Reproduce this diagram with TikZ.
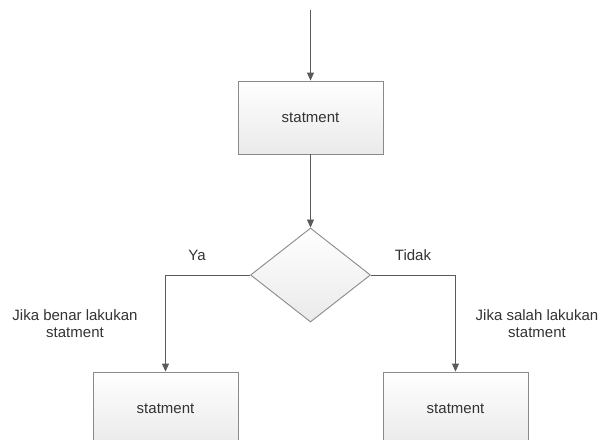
\documentclass[tikz,border=0pt]{standalone}
\usepackage{fontspec}
\setmainfont{Liberation Sans}
\usetikzlibrary{arrows.meta,shapes.geometric}
\definecolor{linec}{HTML}{5A5A5A}
\definecolor{borderc}{HTML}{8A8A8A}
\definecolor{textc}{HTML}{333333}
\definecolor{fillb}{HTML}{EAEAEA}
\begin{document}
\begin{tikzpicture}[x=1pt,y=1pt,
  font=\fontsize{15}{17}\selectfont, text=textc,
  stmt/.style={rectangle, draw=borderc, line width=0.9pt, top color=white, bottom color=fillb,
    minimum width=145pt, minimum height=73pt, inner sep=0pt},
  dec/.style={diamond, draw=borderc, line width=0.9pt, top color=white, bottom color=fillb,
    minimum width=120pt, minimum height=94pt, inner sep=0pt},
  conn/.style={draw=linec, line width=0.9pt, -{Triangle[width=7pt,length=8pt]}},
  lbl/.style={align=center, inner sep=0pt}]
\useasboundingbox (0,0) rectangle (604,-439);
\fill[white] (0,0) rectangle (604,-439);
\coordinate (start) at (310.5,-10);
\node[stmt] (top) at (310.5,-117.5) {statment};
\node[dec] (dia) at (310.5,-275) {};
\node[stmt] (left) at (165.5,-408.5) {statment};
\node[stmt] (right) at (455.5,-408.5) {statment};
\draw[conn] (start) -- (top);
\draw[conn] (top) -- (dia);
\draw[conn] (dia.west) -| (left.north);
\draw[conn] (dia.east) -| (right.north);
\node[lbl] (ya) at (197,-255) {Ya};
\node[lbl] (tidak) at (413,-255) {Tidak};
\node[lbl] (lt) at (75,-323.5) {Jika benar lakukan\\statment};
\node[lbl] (rt) at (537,-323.5) {Jika salah lakukan\\statment};
\end{tikzpicture}
\end{document}
